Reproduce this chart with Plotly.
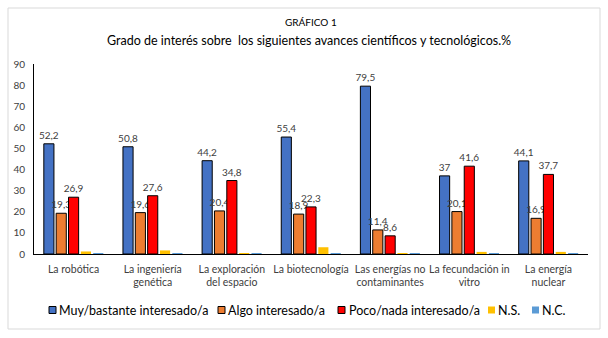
import plotly.graph_objects as go

categories = ["La robótica", "La ingeniería<br>genética", "La exploración<br>del espacio",
              "La biotecnología", "Las energías no<br>contaminantes", "La fecundación in<br>vitro",
              "La energía<br>nuclear"]
muy = [52.2, 50.8, 44.2, 55.4, 79.5, 37.0, 44.1]
algo = [19.3, 19.6, 20.4, 18.9, 11.4, 20.1, 16.9]
poco = [26.9, 27.6, 34.8, 22.3, 8.6, 41.6, 37.7]
ns = [1.2, 1.7, 0.4, 3.2, 0.3, 1.0, 1.0]
nc = [0.1, 0.1, 0.1, 0.1, 0.1, 0.4, 0.2]
series_names = ["Muy/bastante interesado/a", "Algo interesado/a", "Poco/nada interesado/a", "N.S.", "N.C."]
y_ticks = [0, 10, 20, 30, 40, 50, 60, 70, 80, 90]

def fmt(v):
    s = ("%.1f" % v).replace(".", ",")
    return s[:-2] if s.endswith(",0") else s

colors = ["#4472C4", "#ED7D31", "#FF0000", "#FFC000", "#5B9BD5"]
data = [muy, algo, poco, ns, nc]

FONT = "Lato, sans-serif"
# plot area in pixels
L, R, T, B = 34, 588, 64, 254
W, H = R - L, B - T
def px(x):
    return (x - L) / W
def py(y):
    return (B - y) / H

fig = go.Figure()
for i, (name, vals) in enumerate(zip(series_names, data)):
    outlined = i < 3
    fig.add_trace(go.Bar(
        x=categories, y=vals, name=name, showlegend=False,
        marker=dict(color=colors[i], line=dict(color="#000000" if outlined else colors[i], width=1 if outlined else 0)),
        text=[fmt(v) for v in vals] if outlined else None,
        textposition="outside" if outlined else "none",
        constraintext="none",
        textfont=dict(family=FONT, size=10, color="#404040"),
        cliponaxis=False,
    ))

# manual legend (square x-left position in px, text x-start in px)
legend_pos = [(49, 57), (218, 226), (338, 347), (488, 496), (532, 540)]
shapes = [dict(type="rect", xref="paper", yref="paper",
               x0=px(8), x1=px(600), y0=py(329), y1=py(8),
               line=dict(color="#D9D9D9", width=1), fillcolor="rgba(0,0,0,0)", layer="below")]
annotations = [
    dict(text="GRÁFICO 1", xref="paper", yref="paper", x=px(311), y=py(22),
         showarrow=False, font=dict(family=FONT, size=10, color="#000000"), xanchor="center", yanchor="middle"),
    dict(text="Grado de interés sobre  los siguientes avances científicos y tecnológicos.%",
         xref="paper", yref="paper", x=px(309), y=py(40),
         showarrow=False, font=dict(family=FONT, size=12.5, color="#000000"), xanchor="center", yanchor="middle"),
]
LY = 310
for i, (name, (sx, tx)) in enumerate(zip(series_names, legend_pos)):
    outlined = i < 3
    shapes.append(dict(type="rect", xref="paper", yref="paper",
                       x0=px(sx), x1=px(sx + 7), y0=py(LY + 3.5), y1=py(LY - 3.5),
                       fillcolor=colors[i],
                       line=dict(color="#000000" if outlined else colors[i], width=1 if outlined else 0)))
    annotations.append(dict(text=name, xref="paper", yref="paper", x=px(tx), y=py(LY),
                            showarrow=False, xanchor="left", yanchor="middle",
                            font=dict(family=FONT, size=12.5, color="#000000")))

fig.update_layout(
    width=608, height=338,
    margin=dict(l=L, r=608 - R, t=T, b=338 - B, autoexpand=False),
    paper_bgcolor="white", plot_bgcolor="white",
    barmode="group", bargap=0.22, bargroupgap=0.18,
    font=dict(family=FONT, color="#404040"),
    showlegend=False,
    xaxis=dict(showline=True, linecolor="#000000", linewidth=1, ticks="", ticklabelstandoff=5,
               tickfont=dict(family=FONT, size=10.5, color="#404040"), showgrid=False),
    yaxis=dict(range=[0, 90], tickvals=y_ticks, showline=True, linecolor="#000000", linewidth=1,
               showgrid=False, ticks="", ticklabelstandoff=6,
               tickfont=dict(family=FONT, size=10, color="#404040"), zeroline=False),
    annotations=annotations,
    shapes=shapes,
)

fig.write_html("out.html")
